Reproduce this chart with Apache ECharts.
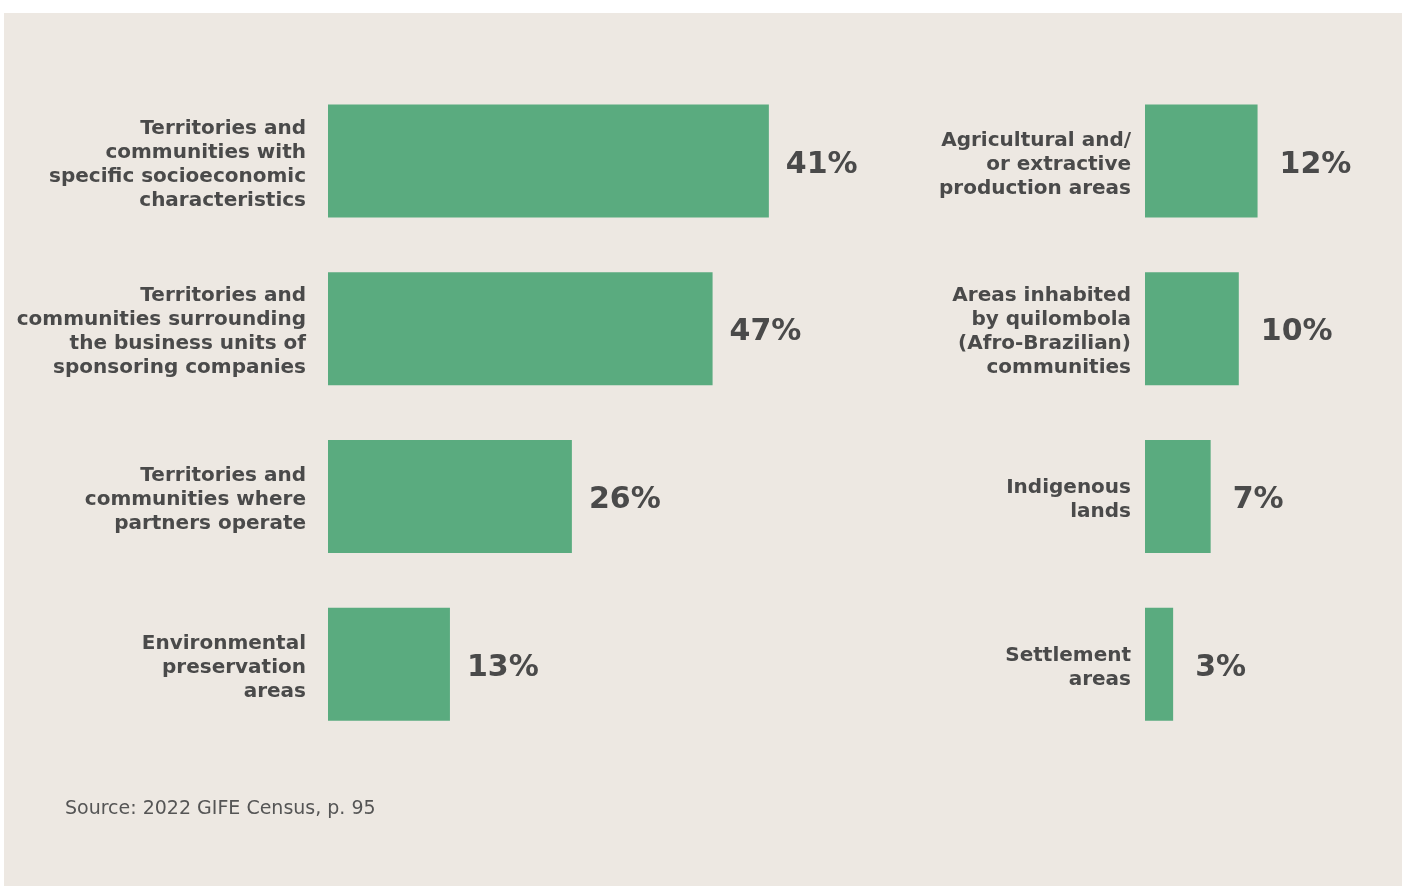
<!DOCTYPE html>
<html>
<head>
<meta charset="utf-8">
<script src="https://cdn.jsdelivr.net/npm/echarts@6/dist/echarts.min.js"></script>
<style>
html,body{margin:0;padding:0;background:#ffffff;}
#chart{width:1402px;height:887px;}
</style>
</head>
<body>
<div id="chart"></div>
<script>
// Left panel
const leftCategories = [
  "Territories and\ncommunities with\nspecific socioeconomic\ncharacteristics",
  "Territories and\ncommunities surrounding\nthe business units of\nsponsoring companies",
  "Territories and\ncommunities where\npartners operate",
  "Environmental\npreservation\nareas"
];
// bar lengths as drawn in the picture
const leftBarValues = [47, 41, 26, 13];
// value labels as printed in the picture
const leftLabels = ["41%", "47%", "26%", "13%"];

// Right panel
const rightCategories = [
  "Agricultural and/\nor extractive\nproduction areas",
  "Areas inhabited\nby quilombola\n(Afro-Brazilian)\ncommunities",
  "Indigenous\nlands",
  "Settlement\nareas"
];
const rightBarValues = [12, 10, 7, 3];
const rightLabels = ["12%", "10%", "7%", "3%"];

const sourceText = "Source: 2022 GIFE Census, p. 95";

const FONT = "'DejaVu Sans', 'Noto Sans', sans-serif";
const TEXT = "#4a4a4a";
const BAR = "#5aab7f";
const PX_PER_UNIT = 9.38;

const chart = echarts.init(document.getElementById('chart'));

function yAxisFor(idx, cats, margin) {
  return {
    type: 'category', gridIndex: idx, data: cats, inverse: true,
    axisLine: {show: false}, axisTick: {show: false}, splitLine: {show: false},
    axisLabel: {
      margin: margin, align: 'right', color: TEXT, fontFamily: FONT,
      fontWeight: 'bold', fontSize: 20, lineHeight: 24,
      formatter: v => '{s| }\n' + v.split('\n').map(l => '{t|' + l + '}').join('\n'),
      rich: {
        s: {fontSize: 6, lineHeight: 7},
        t: {fontSize: 20, lineHeight: 24, fontWeight: 'bold', fontFamily: FONT, color: TEXT, align: 'right'}
      }
    }
  };
}
function xAxisFor(idx, max) {
  return {
    type: 'value', gridIndex: idx, min: 0, max: max,
    show: false, splitLine: {show: false}
  };
}
function seriesFor(idx, vals, labels, dist) {
  return {
    type: 'bar', xAxisIndex: idx, yAxisIndex: idx, data: vals,
    barWidth: 113, itemStyle: {color: BAR},
    label: {
      show: true, position: 'right', distance: dist, offset: [0, 4],
      formatter: p => labels[p.dataIndex],
      color: TEXT, fontFamily: FONT, fontWeight: 'bold', fontSize: 30
    }
  };
}

chart.setOption({
  animation: false,
  backgroundColor: '#ffffff',
  graphic: [
    {type: 'rect', z: -10, shape: {x: 4, y: 13, width: 1398, height: 873}, style: {fill: '#ede8e2'}},
    {type: 'text', left: 65, top: 800, style: {text: sourceText, fill: '#555555', font: "19px 'DejaVu Sans', sans-serif"}}
  ],
  grid: [
    {left: 328, top: 77, height: 671, width: 50 * PX_PER_UNIT},
    {left: 1145, top: 77, height: 671, width: 25 * PX_PER_UNIT}
  ],
  xAxis: [xAxisFor(0, 50), xAxisFor(1, 25)],
  yAxis: [yAxisFor(0, leftCategories, 22), yAxisFor(1, rightCategories, 14)],
  series: [seriesFor(0, leftBarValues, leftLabels, 17), seriesFor(1, rightBarValues, rightLabels, 22)]
});
</script>
</body>
</html>
